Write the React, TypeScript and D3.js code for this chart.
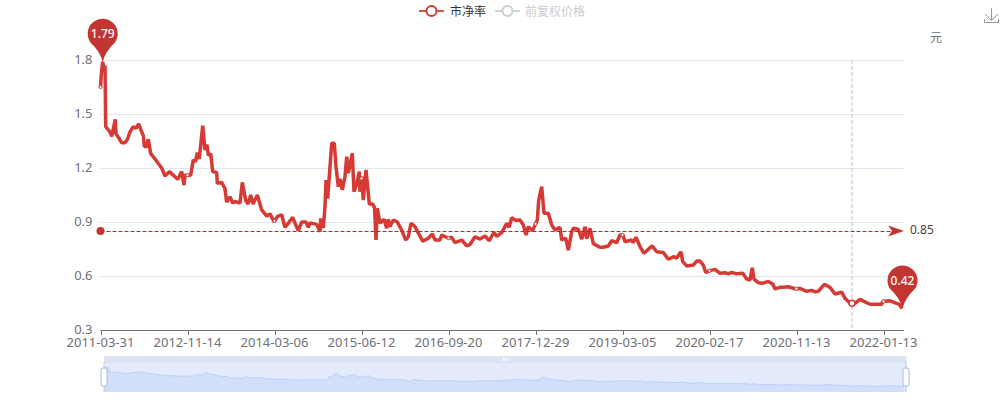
import React from "react";
import * as d3 from "d3";

const tickLabels = ["2011-03-31","2012-11-14","2014-03-06","2015-06-12","2016-09-20","2017-12-29","2019-03-05","2020-02-17","2020-11-13","2022-01-13"];
const tickIndex = [0,87,174,261,348,435,522,609,696,783];
const yTicks = [0.3,0.6,0.9,1.2,1.5,1.8];

// [sample position on the category axis, price-to-book value]
const pbEarly: [number, number][] = [[0,1.65],[0.8,1.72],[2.2,1.79],[3.5,1.75],[4.5,1.77],[5.2,1.43],[9.5,1.40],[11.2,1.375],[12.5,1.41],[14.8,1.47],[15.5,1.39],[18,1.37],[21.2,1.34],[24.5,1.34],[27,1.36],[29.5,1.40],[32.8,1.43],[35.5,1.42],[38.2,1.445],[40.5,1.41],[42.8,1.38],[43.8,1.32],[46,1.32],[47.8,1.36],[50.2,1.28],[54.5,1.25],[57.8,1.225],[61.2,1.20],[64.5,1.155],[68.8,1.18],[72.8,1.16],[77.2,1.137],[81.2,1.18],[83.5,1.105],[84.5,1.16],[90.2,1.16],[92.8,1.245],[95,1.235],[96.8,1.285],[98.8,1.25],[102.2,1.435],[104.5,1.30],[106.5,1.33],[107.8,1.27],[110.2,1.28],[112.2,1.18],[116.2,1.175],[116.8,1.115],[121.2,1.12],[124.5,1.085],[126.2,1.01],[129.5,1.04],[132.2,1.005],[134.5,1.015],[139.5,1.005],[141.8,1.12],[145.2,1.02],[147.5,1.0],[150.2,1.05],[152.5,1.0],[156.8,1.05],[161.2,0.967],[166.2,0.933],[169.5,0.945],[173.5,0.902],[177.5,0.933],[181.2,0.94],[184.5,0.87],[187.8,0.893],[192.2,0.926],[195.5,0.88],[197.8,0.852],[201.2,0.90],[205.5,0.90],[207.8,0.87],[209.5,0.895],[216.2,0.887],[219.5,0.846],[220.2,0.92],[222.8,0.867]];
const pbBoom: [number, number][] = [[224.5,0.985],[225.5,1.133],[227.2,1.03],[229.5,1.207],[231.2,1.337],[233.8,1.337],[235.5,1.207],[237.8,1.096],[239.5,1.14],[241.8,1.078],[244.5,1.152],[246.2,1.263],[247.8,1.172],[251.8,1.282],[253.5,1.068],[256.2,1.11],[258.8,1.18],[259.5,1.068],[261.2,1.152],[262.8,1.022],[265.5,1.189],[268.8,1.0],[272.2,1.0],[274,0.98],[275.5,0.80],[276.8,0.976],[279.5,0.893],[283.5,0.915],[286.2,0.865],[287.8,0.915],[289.5,0.875],[292.8,0.911],[296.8,0.90],[301.2,0.855],[305.2,0.80],[307.8,0.818],[310.5,0.893],[314.5,0.874],[318.8,0.828]];
const pbMiddle: [number, number][] = [[322.2,0.794],[327.8,0.81],[331.8,0.833],[334.5,0.80],[339.5,0.80],[341.2,0.828],[347.8,0.81],[351.2,0.815],[354.5,0.785],[361.2,0.80],[366.2,0.767],[369.5,0.775],[374.5,0.818],[379.5,0.805],[384.5,0.822],[388.8,0.796],[393.5,0.843],[396.2,0.82],[401.2,0.841],[406.2,0.893],[408.5,0.87],[411.2,0.924],[414.5,0.91],[419.5,0.911],[422.8,0.883],[425.5,0.828],[427.8,0.874],[432.2,0.852],[434.5,0.883],[436.8,0.911],[438.2,1.022],[441.2,1.096],[443.5,0.948],[447.8,0.948],[451.2,0.883],[454.5,0.856],[459.5,0.87],[461.2,0.80],[465.2,0.81],[467.8,0.744],[471.2,0.846],[472.8,0.865],[477.8,0.86],[481.2,0.805],[484.5,0.874],[486.2,0.807],[489.5,0.865],[492.8,0.78],[499.5,0.76],[502.5,0.76],[507.8,0.767],[511.2,0.796],[516.2,0.785],[519.5,0.828],[522.5,0.828],[524.5,0.79],[531.2,0.80],[532.5,0.785],[535.5,0.815]];
const pbLate: [number, number][] = [[539.5,0.763],[543.5,0.726],[549.5,0.757],[551.8,0.767],[556.2,0.735],[562.8,0.731],[567.8,0.693],[572.8,0.707],[576.2,0.70],[580.5,0.735],[582.2,0.68],[586.2,0.656],[592.8,0.661],[596.2,0.683],[599.5,0.683],[602.8,0.661],[605.2,0.62],[609.5,0.63],[614.5,0.637],[619.5,0.615],[624.5,0.618],[627.8,0.612],[631.2,0.62],[636.2,0.612],[642.2,0.615],[646.2,0.583],[649.5,0.578],[651.8,0.646],[653.5,0.582],[657.8,0.563],[662.5,0.56],[667.8,0.57],[672.2,0.555],[674.5,0.528],[679.5,0.537],[682.5,0.537],[687.8,0.54],[694.5,0.529],[699.5,0.531],[706.2,0.515],[711.2,0.52],[714.5,0.512],[717.8,0.515],[723.8,0.554],[729.5,0.537],[734.5,0.50],[741.2,0.51],[744.5,0.476],[749.5,0.448],[754.5,0.448],[759.5,0.47],[764.5,0.456],[769.5,0.443],[781.2,0.443],[782.2,0.458],[789.5,0.462],[796.2,0.448],[798.5,0.444],[801.5,0.42]];

const maxPoint = { index: 2.2, value: 1.79 };
const minPoint = { index: 802, value: 0.42 };
const meanValue = 0.85;
const hoverIndex = 751.5;

const lineColor = "#d53a35";
const markColor = "#c23531";
const textGray = "#6E7079";
const CJK = "'Noto Sans CJK SC', 'Noto Sans', sans-serif";
const NUM = "'Noto Sans', 'Noto Sans CJK SC', sans-serif";

const L = 100.5, R = 904, T = 60, B = 330;
const x = d3.scaleLinear().domain([0, 803.5]).range([L, R]);
const y = d3.scaleLinear().domain([0.3, 1.8]).range([B, T]);
const pts: [number, number][] = [...pbEarly, ...pbBoom, ...pbMiddle, ...pbLate];
const line = d3.line<[number, number]>().x(d => x(d[0])).y(d => y(d[1]));
const valueAt = d3.scaleLinear().domain(pts.map(p => p[0])).range(pts.map(p => p[1]));

// data-zoom overview
const zx = d3.scaleLinear().domain([0, 803.5]).range([104, 906]);
const zy = d3.scaleLinear().domain([0, 1.79]).range([392.5, 367]);
const zArea = d3.area<[number, number]>().x(d => zx(d[0])).y0(392).y1(d => zy(d[1]));
const zLine = d3.line<[number, number]>().x(d => zx(d[0])).y(d => zy(d[1]));

function pin(cx: number, tip: number) {
  const r = 15, cy = tip - 28;
  const a = (35 * Math.PI) / 180;
  const ex = r * Math.cos(a), ey = r * Math.sin(a);
  const p = d3.path();
  p.moveTo(cx, tip);
  p.quadraticCurveTo(cx - 3, cy + 17, cx - ex, cy + ey);
  p.arc(cx, cy, r, Math.PI - a, a);
  p.quadraticCurveTo(cx + 3, cy + 17, cx, tip);
  p.closePath();
  return p.toString();
}

function Pin({ p }: { p: { index: number; value: number } }) {
  const cx = x(p.index), tip = y(p.value);
  return (
    <g>
      <path d={pin(cx, tip)} fill={markColor} />
      <text x={cx} y={tip - 28} dy="0.36em" textAnchor="middle" fontSize={12} fontWeight={500} fill="#fff" fontFamily={NUM}>{p.value.toFixed(2)}</text>
    </g>
  );
}

function LegendItem({ lx, tx, label, color, tcolor }: { lx: number; tx: number; label: string; color: string; tcolor: string }) {
  return (
    <g>
      <line x1={lx} x2={lx + 25} y1={11} y2={11} stroke={color} strokeWidth={2} opacity={0.85} />
      <circle cx={lx + 12.5} cy={11} r={5} fill="#fff" stroke={color} strokeWidth={2} />
      <text x={tx} y={11} dy="0.4em" fontSize={12} fill={tcolor} fontFamily={CJK}>{label}</text>
    </g>
  );
}

export default function App() {
  const meanY = y(meanValue);
  return (
    <svg width={1005} height={400} style={{ position: "absolute", left: 0, top: 0, background: "#fff" }}>
      <LegendItem lx={419} tx={450} label="市净率" color={lineColor} tcolor="#333" />
      <LegendItem lx={495} tx={525} label="前复权价格" color="#ccc" tcolor="#ccc" />
      <text x={936} y={38} dy="0.36em" textAnchor="middle" fontSize={12} fill={textGray} fontFamily={CJK}>元</text>
      <g fill="none" stroke="#999" strokeWidth={1}>
        <path d="M991.5 8 V20 M985 14 L991.5 20.5 L998 14" />
        <path d="M984.5 19 V22.5 H998.5 V19" />
      </g>
      {yTicks.filter(t => t > 0.3).map(t => (
        <line key={t} x1={L} x2={R} y1={Math.round(y(t)) + 0.5} y2={Math.round(y(t)) + 0.5} stroke="#E0E6F1" />
      ))}
      {yTicks.map(t => (
        <text key={t} x={L - 8} y={y(t) - 1} dy="0.36em" textAnchor="end" fontSize={13} fill={textGray} fontFamily={NUM}>{t.toFixed(1)}</text>
      ))}
      <line x1={L} x2={R} y1={B + 0.5} y2={B + 0.5} stroke={textGray} />
      {tickIndex.map((t, i) => (
        <g key={t}>
          <line x1={Math.round(x(t)) + 0.5} x2={Math.round(x(t)) + 0.5} y1={B} y2={B + 5} stroke={textGray} />
          <text x={x(t)} y={B + 12} dy="0.36em" textAnchor="middle" fontSize={13} fill={textGray} fontFamily={NUM}>{tickLabels[i]}</text>
        </g>
      ))}
      <line x1={x(hoverIndex)} x2={x(hoverIndex)} y1={T} y2={B} stroke="#B9BEC9" strokeDasharray="4 2" />
      <path d={line(pts) ?? ""} fill="none" stroke={lineColor} strokeWidth={3.5} strokeLinejoin="bevel" />
      {tickIndex.map(t => (
        <circle key={t} cx={x(t)} cy={y(valueAt(t))} r={1.6} fill="#fff" stroke={lineColor} strokeWidth={1} />
      ))}
      <circle cx={x(hoverIndex)} cy={y(valueAt(hoverIndex))} r={3} fill="#fff" stroke={lineColor} strokeWidth={1.5} />
      <line x1={L} x2={R - 8} y1={meanY + 0.5} y2={meanY + 0.5} stroke="#a82e2a" strokeWidth={1} strokeDasharray="4 2" />
      <circle cx={L} cy={meanY} r={4} fill={markColor} />
      <path d={d3.line()([[R - 16, meanY - 5.5], [R, meanY], [R - 16, meanY + 5.5], [R - 12, meanY]]) + "Z"} fill={markColor} />
      <text x={R + 6} y={meanY - 1} dy="0.36em" fontSize={12} fill="#444" fontFamily={NUM}>{meanValue}</text>
      <Pin p={maxPoint} />
      <Pin p={minPoint} />
      <rect x={104} y={356} width={802.5} height={7} fill="#DDE3F0" />
      <rect x={104} y={363} width={802.5} height={29} fill="#E4EBFC" />
      <path d={zArea(pts) ?? ""} fill="#D2DFFB" />
      <path d={zLine(pts) ?? ""} fill="none" stroke="#B9CFFB" strokeWidth={1} />
      <line x1={104} x2={104} y1={362} y2={392} stroke="#ACB8D1" strokeOpacity={0.6} />
      <line x1={906} x2={906} y1={362} y2={392} stroke="#ACB8D1" strokeOpacity={0.6} />
      <rect x={101} y={368} width={6} height={18} rx={2} fill="#fff" stroke="#ACB8D1" />
      <rect x={903} y={368} width={6} height={18} rx={2} fill="#fff" stroke="#ACB8D1" />
      <g fill="#fff">
        {[503, 505, 507].map(v => <rect key={v} x={v} y={358} width={1} height={3} />)}
      </g>
    </svg>
  );
}
